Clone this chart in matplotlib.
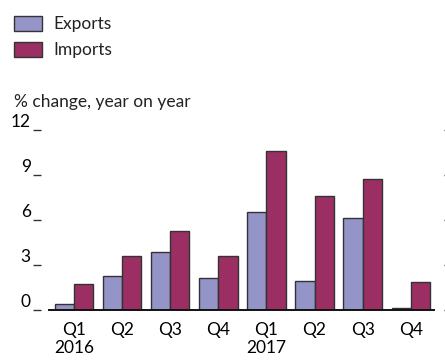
import matplotlib.pyplot as plt
import numpy as np

quarters = ['Q1\n2016', 'Q2', 'Q3', 'Q4', 'Q1\n2017', 'Q2', 'Q3', 'Q4']
exports = [0.38, 2.27, 3.87, 2.11, 6.51, 1.96, 6.11, 0.11]
imports = [1.73, 3.6, 5.27, 3.6, 10.62, 7.62, 8.73, 1.85]
yticks = [0, 3, 6, 9, 12]

plt.rcParams['font.family'] = ['Lato', 'DejaVu Sans']
plt.rcParams['text.color'] = '#222222'

fig = plt.figure(figsize=(4.45, 3.6), dpi=100)
ax = fig.add_axes([0.110, 0.139, 0.865, 0.500])

x = np.arange(len(quarters))
w = 0.40
ax.bar(x - w / 2, exports, w, color='#9594C8', edgecolor='#333333', linewidth=1.0, label='Exports')
ax.bar(x + w / 2, imports, w, color='#9B2F63', edgecolor='#333333', linewidth=1.0, label='Imports')

ax.set_xlim(-0.52, 7.48)
ax.set_ylim(0, 12)
ax.set_yticks(yticks)
ax.set_xticks(x)
ax.set_xticklabels(quarters, fontsize=12.5, linespacing=1.1)

for s in ['top', 'right', 'left']:
    ax.spines[s].set_visible(False)
ax.spines['bottom'].set_linewidth(1.4)
ax.spines['bottom'].set_color('#111111')
ax.spines['left'].set_position(('outward', 6))
ax.spines['right'].set_position(('outward', 7))

ax.tick_params(axis='x', length=0, pad=9)
ax.tick_params(axis='y', direction='out', length=6, width=1, color='#333333',
               labelsize=12.5, pad=1, right=True)
for lab in ax.get_yticklabels():
    lab.set_va('bottom')
for t in ax.yaxis.get_major_ticks():
    t.tick2line.set_markersize(3)
    t.tick2line.set_color('#aaaaaa')

fig.text(0.032, 0.718, '% change, year on year', fontsize=12.5, ha='left', va='center')

fig.legend(loc='upper left', bbox_to_anchor=(0.008, 0.985), frameon=False, fontsize=12.5,
           handlelength=1.6, handleheight=0.95, labelspacing=0.55, handletextpad=0.65,
           borderaxespad=0.2)

fig.savefig('out.png', dpi=100)
